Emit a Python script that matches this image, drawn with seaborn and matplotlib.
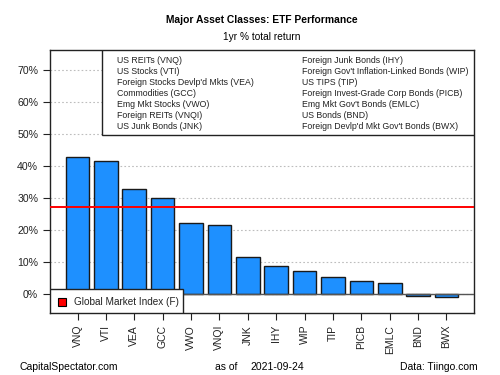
import matplotlib
matplotlib.use('Agg')
import matplotlib.pyplot as plt
from matplotlib.patches import Rectangle
import pandas as pd
import seaborn as sns

# values (1yr % total return)
tickers = ['VNQ', 'VTI', 'VEA', 'GCC', 'VWO', 'VNQI', 'JNK',
           'IHY', 'WIP', 'TIP', 'PICB', 'EMLC', 'BND', 'BWX']
returns = [42.8, 41.7, 32.7, 30.0, 22.1, 21.4, 11.6,
           8.7, 7.1, 5.3, 4.0, 3.4, -0.5, -1.1]
names_left = ['US REITs (VNQ)', 'US Stocks (VTI)', "Foreign Stocks Devlp'd Mkts (VEA)",
              'Commodities (GCC)', 'Emg Mkt Stocks (VWO)', 'Foreign REITs (VNQI)',
              'US Junk Bonds (JNK)']
names_right = ['Foreign Junk Bonds (IHY)', "Foreign Gov't Inflation-Linked Bonds (WIP)",
               'US TIPS (TIP)', 'Foreign Invest-Grade Corp Bonds (PICB)',
               "Emg Mkt Gov't Bonds (EMLC)", 'US Bonds (BND)',
               "Foreign Devlp'd Mkt Gov't Bonds (BWX)"]
global_index = 27.2
y_ticks = [0, 10, 20, 30, 40, 50, 60, 70]

df = pd.DataFrame({'ticker': tickers, 'ret': returns})

plt.rcParams['font.family'] = ['Liberation Sans', 'DejaVu Sans']

fig = plt.figure(figsize=(5, 3.75), dpi=100)
ax = fig.add_axes([0.1, 0.165, 0.848, 0.702])

# dotted grid first so it stays behind the bars
ax.set_axisbelow(True)
ax.grid(True, color='#bdbdbd', linestyle=(0, (1.5, 2)), linewidth=0.8)

sns.barplot(data=df, x='ticker', y='ret', order=tickers, color='#1E90FF',
            saturation=1, width=0.833, edgecolor='#1a1a1a', linewidth=1.0, ax=ax)

ax.axhline(0, color='#555555', linewidth=1.0, zorder=3)
ax.axhline(global_index, color='red', linewidth=1.4, zorder=4)

ax.set_xlim(-0.97, 13.97)
ax.set_ylim(-6.0, 76.3)
ax.set_yticks(y_ticks)
ax.set_yticklabels([f'{t}%' for t in y_ticks])
ax.set_xlabel('')
ax.set_ylabel('')
ax.tick_params(axis='x', labelrotation=90, labelsize=7.5, length=5, colors='#222222')
ax.tick_params(axis='y', labelsize=7.6, length=5, colors='#222222')
for s in ax.spines.values():
    s.set_color('#222222')
    s.set_linewidth(1.0)

# asset name box at the top
ax.add_patch(Rectangle((0.122, 0.677), 0.878, 0.323, transform=ax.transAxes,
                       facecolor='white', edgecolor='#222222', linewidth=1.0, zorder=5))
for i, (l, r) in enumerate(zip(names_left, names_right)):
    yy = 0.958 - i * 0.0412
    ax.text(0.158, yy, l, transform=ax.transAxes, fontsize=6.3, va='center', zorder=6, color='#222222')
    ax.text(0.594, yy, r, transform=ax.transAxes, fontsize=6.3, va='center', zorder=6, color='#222222')

# global market index legend
ax.add_patch(Rectangle((0, 0), 0.313, 0.091, transform=ax.transAxes,
                       facecolor='white', edgecolor='#222222', linewidth=1.0, zorder=5))
ax.plot([0.0276], [0.044], marker='s', markersize=6, markerfacecolor='red',
        markeredgecolor='black', markeredgewidth=0.8, transform=ax.transAxes, zorder=6)
ax.text(0.057, 0.044, 'Global Market Index (F)', transform=ax.transAxes,
        fontsize=7.2, va='center', zorder=6, color='#222222')

# titles and footer
fig.text(262 / 500, 1 - 20 / 375, 'Major Asset Classes: ETF Performance',
         ha='center', va='center', fontsize=7.4, fontweight='bold')
fig.text(262 / 500, 1 - 36.7 / 375, '1yr % total return', ha='center', va='center', fontsize=7.3)
fig.text(20 / 500, 1 - 366.7 / 375, 'CapitalSpectator.com', ha='left', va='center', fontsize=7.5)
fig.text(215 / 500, 1 - 366.7 / 375, 'as of', ha='left', va='center', fontsize=7.5)
fig.text(250 / 500, 1 - 366.7 / 375, '2021-09-24', ha='left', va='center', fontsize=7.5)
fig.text(478 / 500, 1 - 366.7 / 375, 'Data: Tiingo.com', ha='right', va='center', fontsize=7.5)

fig.savefig('out.png', dpi=100)
